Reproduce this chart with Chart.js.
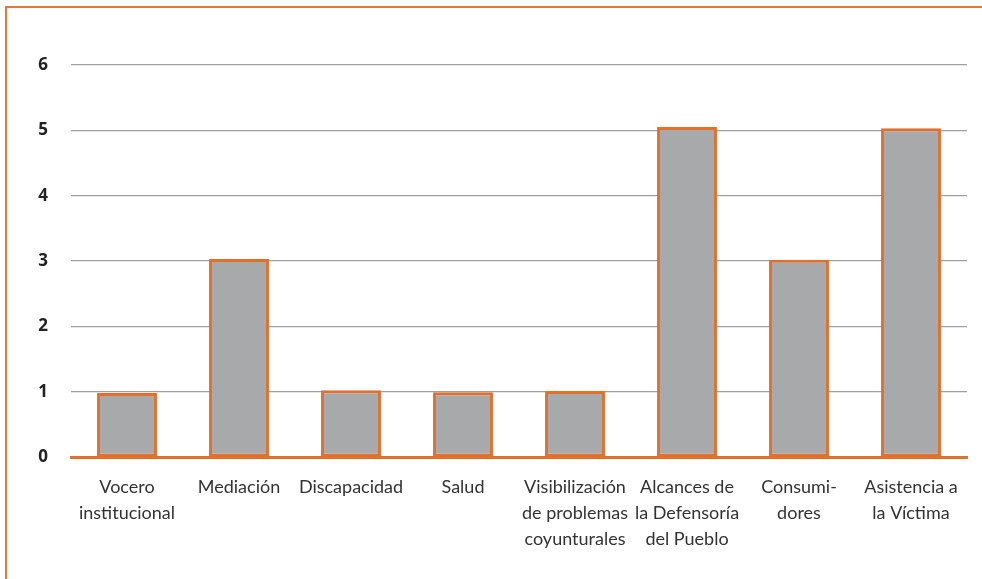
<!DOCTYPE html>
<html>
<head>
<meta charset="utf-8">
<script src="https://cdn.jsdelivr.net/npm/chart.js@4/dist/chart.umd.min.js"></script>
<style>
  html, body { margin: 0; padding: 0; background: #fff; }
  #wrap { position: relative; width: 982px; height: 579px; }
  #frame { position: absolute; left: 5px; top: 6px; right: 0; bottom: 0;
           border-top: 2px solid #E8743A; border-left: 2px solid #E8743A; pointer-events: none; }
  canvas { position: absolute; left: 0; top: 0; }
</style>
</head>
<body>
<div id="wrap">
  <canvas id="c" width="982" height="579"></canvas>
  <div id="frame"></div>
</div>
<script>
const categories = [
  ["Vocero", "institucional"],
  ["Mediación"],
  ["Discapacidad"],
  ["Salud"],
  ["Visibilización", "de problemas", "coyunturales"],
  ["Alcances de", "la Defensoría", "del Pueblo"],
  ["Consumi-", "dores"],
  ["Asistencia a", "la Víctima"]
];
const values = [0.98, 3.03, 1.02, 0.99, 1.01, 5.05, 3.02, 5.03];
const yTicks = [0, 1, 2, 3, 4, 5, 6];

const ORANGE = '#E36F2C';
new Chart(document.getElementById('c'), {
  type: 'bar',
  data: {
    labels: categories,
    datasets: [{
      data: values,
      backgroundColor: '#A8A9AB',
      borderColor: ORANGE,
      borderWidth: 3,
      borderSkipped: false,
      categoryPercentage: 1,
      barPercentage: 0.535
    }]
  },
  options: {
    responsive: false,
    animation: false,
    layout: { padding: { top: 65, right: 15, left: 0, bottom: 0 } },
    plugins: { legend: { display: false }, tooltip: { enabled: false } },
    scales: {
      x: {
        grid: { display: false, drawTicks: false },
        border: { display: true, color: ORANGE, width: 3 },
        ticks: {
          color: '#333',
          font: { family: 'Lato', size: 18, lineHeight: 1.45 },
          padding: 17,
          maxRotation: 0,
          autoSkip: false
        },
        afterFit: s => { s.height = 122; }
      },
      y: {
        min: 0, max: 6,
        afterBuildTicks: s => { s.ticks = yTicks.map(v => ({ value: v })); },
        grid: {
          drawTicks: false,
          color: ctx => ctx.tick && ctx.tick.value === 0 ? 'rgba(0,0,0,0)' : '#A0A0A0',
          lineWidth: 1.2
        },
        border: { display: false },
        ticks: {
          color: '#222',
          font: { family: 'Open Sans', size: 17, weight: 'bold' },
          padding: 23
        },
        afterFit: s => { s.width = 71; }
      }
    }
  }
});
</script>
</body>
</html>
